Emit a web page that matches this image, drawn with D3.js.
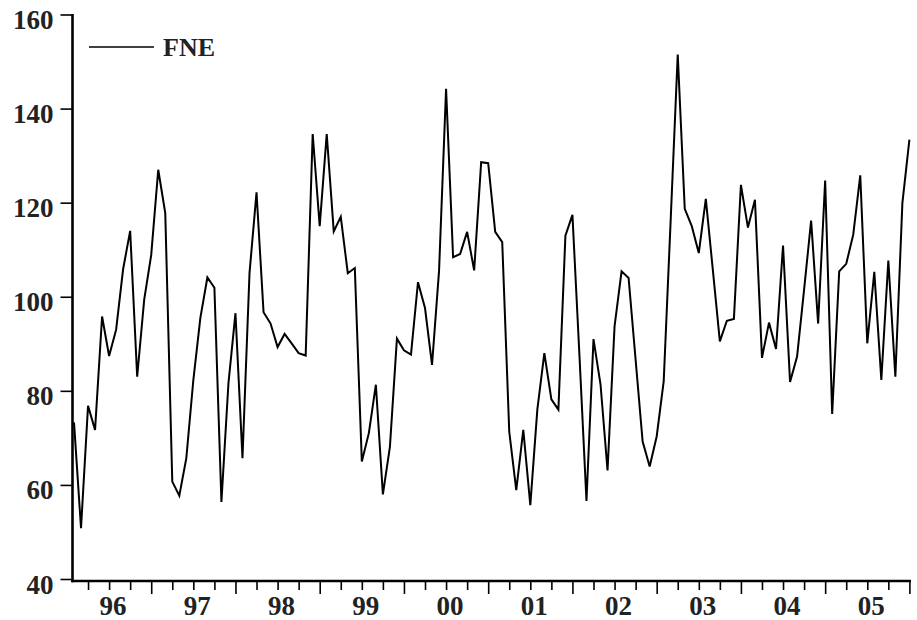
<!DOCTYPE html>
<html>
<head>
<meta charset="utf-8">
<script src="https://cdn.jsdelivr.net/npm/d3@7"></script>
<style>
    body { margin: 0; background: #fff; }
    svg { display: block; }
    .axis text { font-family: "Liberation Serif", serif; font-weight: bold; font-size: 27px; fill: #222; }
    .axis line { stroke: #000; stroke-width: 1.6; }
    .axis path.domain { display: none; }
</style>
</head>
<body>
<svg id="chart" width="917" height="620"></svg>
<script>
// monthly series, 1996M01 .. 2005M12
var fne = [
    73.3, 50.8, 76.8, 71.7, 95.8, 87.4, 93.0, 105.9, 114.0, 83.0, 99.4, 108.9,
    127.0, 117.8, 60.7, 57.7, 65.7, 82.3, 95.5, 104.1, 101.9, 56.4, 81.6, 96.5,
    65.7, 105.0, 122.2, 96.7, 94.3, 89.3, 92.1, 90.1, 88.0, 87.5, 134.6, 115.0,
    134.6, 113.9, 117.0, 105.0, 106.1, 65.0, 71.0, 81.3, 58.0, 68.1, 91.1, 88.6,
    87.7, 103.1, 97.6, 85.5, 105.5, 144.2, 108.4, 109.1, 113.8, 105.6, 128.6, 128.4,
    113.8, 111.6, 71.3, 58.9, 71.7, 55.7, 76.0, 88.0, 78.2, 76.0, 113.0, 117.4,
    87.5, 56.6, 91.0, 81.4, 63.1, 93.7, 105.4, 104.0, 86.6, 69.2, 63.9, 70.3,
    82.0, 116.5, 151.5, 118.7, 115.0, 109.3, 120.8, 105.7, 90.5, 94.9, 95.3, 123.8,
    114.7, 120.6, 87.0, 94.5, 88.9, 110.9, 81.9, 87.3, 101.5, 116.2, 94.3, 124.7,
    75.1, 105.4, 107.0, 113.2, 125.8, 90.1, 105.3, 82.3, 107.7, 83.0, 119.9, 133.4
];
var yearLabels = ["96", "97", "98", "99", "00", "01", "02", "03", "04", "05"];
var yTickValues = [40, 60, 80, 100, 120, 140, 160];
var seriesName = "FNE";

var svg = d3.select("#chart");
svg.append("rect").attr("width", 917).attr("height", 620).attr("fill", "#fff");

var x = d3.scaleLinear().domain([0, fne.length - 1]).range([74, 909.4]);
var y = d3.scaleLinear().domain([40, 160]).range([579, 14.5]);

// quarterly ticks fall on every third observation, year ticks on December
var quarterTicks = d3.range(2, fne.length, 3);
var yearTicks = quarterTicks.filter(function (i) { return (i + 1) % 12 === 0; });
var minorTicks = quarterTicks.filter(function (i) { return (i + 1) % 12 !== 0; });
var labelPos = yearLabels.map(function (d, k) { return k * 12 + 5.5; });

var axisY = 581;

svg.append("g").attr("class", "axis")
        .attr("transform", "translate(72.5,0)")
        .call(d3.axisLeft(y).tickValues(yTickValues).tickSize(12).tickPadding(6).tickSizeOuter(0))
        .selectAll("text").attr("dy", "0.52em").attr("dx", "-1");

svg.append("g").attr("class", "axis")
        .attr("transform", "translate(0," + axisY + ")")
        .call(d3.axisBottom(x).tickValues(minorTicks).tickSize(9).tickFormat(""));
svg.append("g").attr("class", "axis")
        .attr("transform", "translate(0," + axisY + ")")
        .call(d3.axisBottom(x).tickValues(yearTicks).tickSize(13).tickFormat(""));
svg.append("g").attr("class", "axis")
        .attr("transform", "translate(0," + axisY + ")")
        .call(d3.axisBottom(x).tickValues(labelPos).tickSize(0).tickPadding(15)
                .tickFormat(function (d, k) { return yearLabels[k]; }));

// axis frame lines
svg.append("line").attr("x1", 72.5).attr("x2", 72.5).attr("y1", 14).attr("y2", axisY + 1.2)
        .attr("stroke", "#000").attr("stroke-width", 2.6);
svg.append("line").attr("x1", 71.2).attr("x2", 911).attr("y1", axisY).attr("y2", axisY)
        .attr("stroke", "#000").attr("stroke-width", 2.6);

var line = d3.line()
        .x(function (d, i) { return x(i); })
        .y(function (d) { return y(d); });

svg.append("path").datum(fne)
        .attr("d", line)
        .attr("fill", "none")
        .attr("stroke", "#000")
        .attr("stroke-width", 2)
        .attr("stroke-linejoin", "miter");

// legend
var legend = svg.append("g").attr("transform", "translate(89,47)");
legend.append("line").attr("x1", 0).attr("x2", 65).attr("y1", 0).attr("y2", 0)
        .attr("stroke", "#000").attr("stroke-width", 1.4);
legend.append("text").attr("x", 74).attr("y", 8.5)
        .attr("font-family", "Liberation Serif, serif").attr("font-weight", "bold")
        .attr("font-size", 26).attr("fill", "#222")
        .text(seriesName);
</script>
</body>
</html>
